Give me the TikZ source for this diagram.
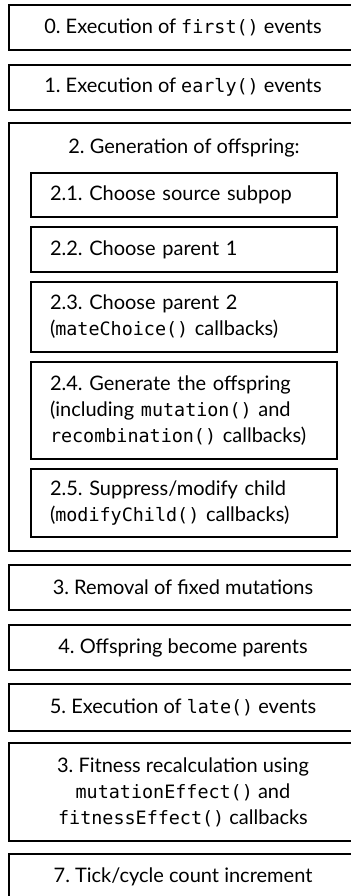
\documentclass[tikz,border=0pt]{standalone}
\usepackage{fontspec}
\setmainfont{Lato}
\setmonofont{DejaVu Sans Mono}[Scale=0.92]
\frenchspacing
\tikzset{
  line/.style={line width=1pt},
  % outer stage boxes
  stage/.style={draw,line,rectangle,minimum width=174pt,align=center,
    font=\fontsize{10}{13}\selectfont,inner sep=0pt},
  % inner offspring steps
  substage/.style={draw,line,rectangle,minimum width=153pt,text width=134pt,
    align=left,font=\fontsize{10}{13}\selectfont,inner xsep=9.5pt,inner ysep=0pt},
  lbl/.style={font=\fontsize{10}{13}\selectfont,inner sep=0pt}
}
\begin{document}
\begin{tikzpicture}[x=0.5pt,y=-0.5pt]
  \useasboundingbox (0,0) rectangle (351,896);
  \clip (0,0) rectangle (351,896);

  %--- stages before offspring
  \node[stage,minimum height=22.5pt] (first) at (183,27.5) {0. Execution of \texttt{first()} events};
  \node[stage,minimum height=22.5pt] (early) at (183,87.5) {1. Execution of \texttt{early()} events};

  %--- offspring generation
  \node[stage,minimum height=214pt] (gen) at (183,337) {};
  \node[lbl] (gentitle) at (184,148) {2. Generation of offspring:};
  \node[substage,minimum height=22pt] (src) at (184,195) {2.1. Choose source subpop};
  \node[substage,minimum height=22.5pt] (par1) at (184,249.5) {2.2. Choose parent 1};
  \node[substage,minimum height=35pt] (par2) at (184,317)
    {2.3. Choose parent 2\\(\texttt{mateChoice()} callbacks)};
  \node[substage,minimum height=48.5pt] (child) at (184,410.5)
    {2.4. Generate the offspring\\(including \texttt{mutation()} and\\\texttt{recombination()} callbacks)};
  \node[substage,minimum height=34pt] (modify) at (184,503)
    {2.5. Suppress/modify child\\(\texttt{modifyChild()} callbacks)};

  %--- stages after offspring
  \node[stage,minimum height=22.5pt] (fixed) at (183,587.5) {3. Removal of fixed mutations};
  \node[stage,minimum height=22.5pt] (swap) at (183,647.5) {4. Offspring become parents};
  \node[stage,minimum height=23.5pt] (late) at (183,707.5) {5. Execution of \texttt{late()} events};
  \node[stage,minimum height=49pt] (fitness) at (183,792)
    {3. Fitness recalculation using\\\texttt{mutationEffect()} and\\\texttt{fitnessEffect()} callbacks};
  \node[stage,minimum height=22.5pt] (tick) at (183,876.5) {7. Tick/cycle count increment};
\end{tikzpicture}
\end{document}
